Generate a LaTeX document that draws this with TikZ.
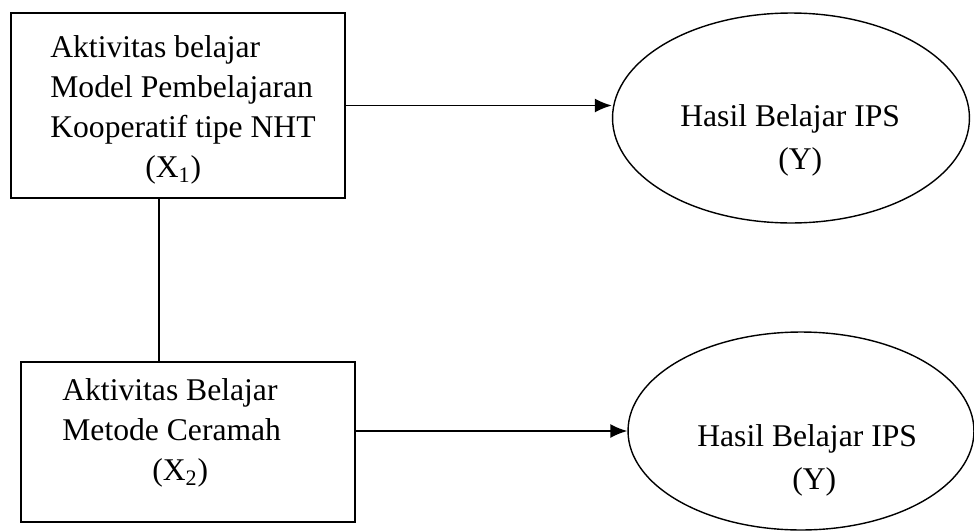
\documentclass[tikz,border=0pt]{standalone}
\usepackage{fontspec}
\setmainfont{Liberation Serif}
\usetikzlibrary{shapes.geometric,arrows.meta}
\tikzset{
	varbox/.style={draw,line width=1.2pt,rectangle,minimum width=6.68cm,inner sep=0pt},
	resultoval/.style={draw,line width=0.8pt,ellipse,inner sep=0pt},
	boxtext/.style={anchor=west,inner sep=0pt,align=left,font=\fontsize{18pt}{22.8pt}\selectfont},
	ovaltext/.style={anchor=west,inner sep=0pt,align=left,font=\fontsize{18pt}{24.5pt}\selectfont},
	flow/.style={line width=1pt,-{Latex[length=0.34cm,width=0.28cm]}}
}
\begin{document}
\begin{tikzpicture}[x=0.02cm,y=-0.02cm]
	\useasboundingbox (0,0) rectangle (974,531);
		\coordinate (nht) at (178,105.5);
		\coordinate (ceramah) at (188,442);
		\coordinate (hasil nht) at (791,118);
		\coordinate (hasil ceramah) at (801,431);
		\coordinate (link) at (159,0);

		\node [varbox,minimum height=3.7cm] (x1) at (nht) {};
\node [varbox,minimum height=3.2cm] (x2) at (ceramah) {};
\node [resultoval,minimum width=7.14cm,minimum height=4.2cm] (y1) at (hasil nht) {};
\node [resultoval,minimum width=6.92cm,minimum height=3.96cm] (y2) at (hasil ceramah) {};

\node [boxtext] (x1 text) at (50,110) {Aktivitas belajar\\Model Pembelajaran\\Kooperatif tipe NHT\\\hspace*{1.9cm}(X\textsubscript{1})};
\node [boxtext] (x2 text) at (62,433) {Aktivitas Belajar\\Metode Ceramah\\\hspace*{1.8cm}(X\textsubscript{2})};
\node [ovaltext] (y1 text) at (680,140.5) {Hasil Belajar IPS\\\hspace*{1.96cm}(Y)};
\node [ovaltext] (y2 text) at (697,460.5) {Hasil Belajar IPS\\\hspace*{1.9cm}(Y)};

		\draw [line width=1pt] (link |- x1.south) -- (link |- x2.north);
		\draw [flow] (x1.east) -- (x1.east -| y1.west);
		\draw [flow] (y2.west -| x2.east) -- (y2.west);

		\end{tikzpicture}
\end{document}
